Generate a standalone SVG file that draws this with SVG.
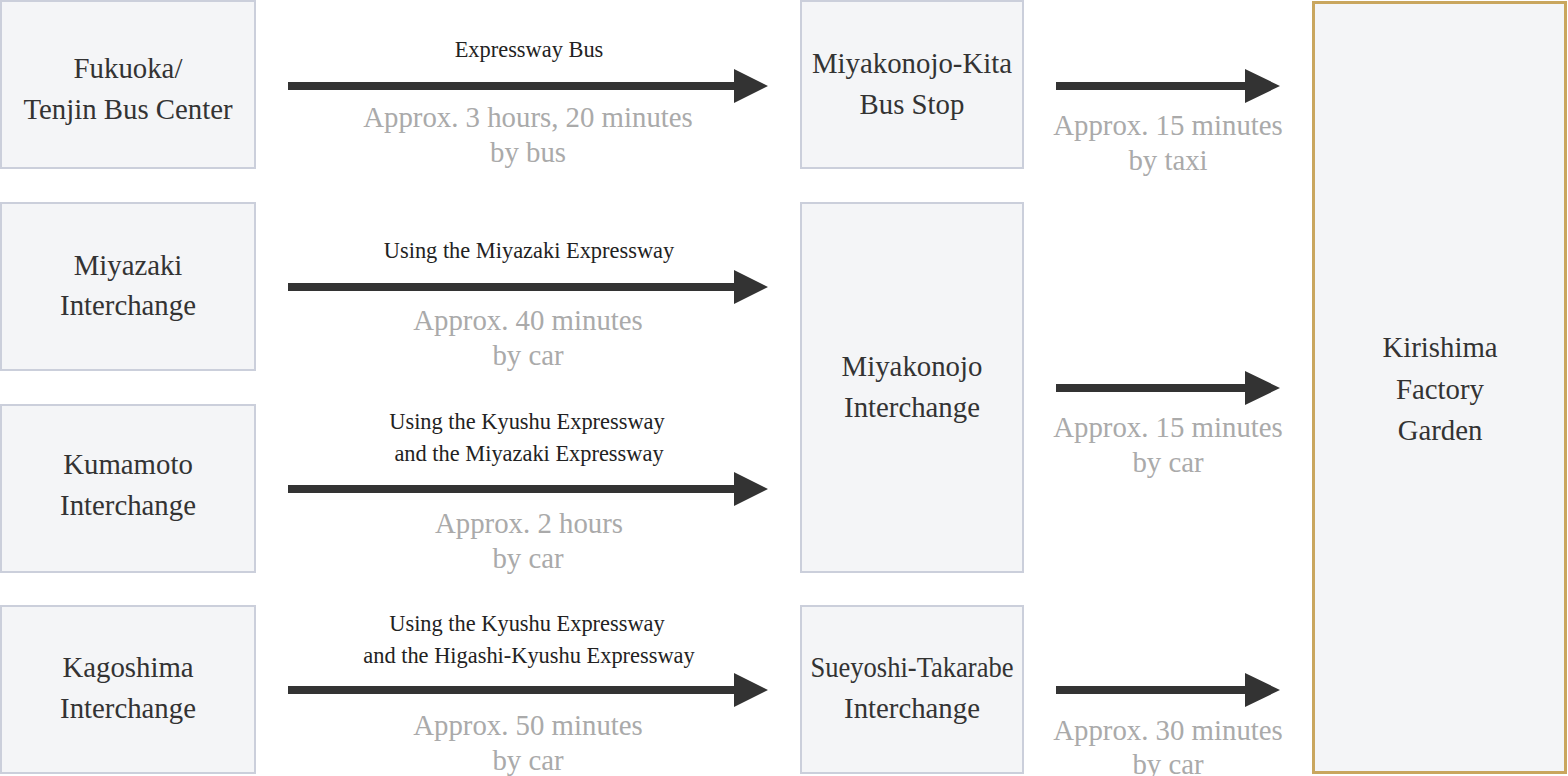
<svg xmlns="http://www.w3.org/2000/svg" width="1568" height="776" viewBox="0 0 1568 776">
<style>
.box{fill:#f4f5f7;stroke:#cbcfdb;stroke-width:2}
.goal{fill:#f4f5f7;stroke:#c9a65e;stroke-width:3}
.lbl{font-family:"Liberation Serif","Times New Roman",serif;font-size:28.8px;fill:#333;text-anchor:middle}
.via{font-family:"Liberation Serif","Times New Roman",serif;font-size:22.4px;fill:#222;text-anchor:middle}
.time{font-family:"Liberation Serif","Times New Roman",serif;font-size:28.8px;fill:#aaa;text-anchor:middle}
.arr{fill:#333}
</style>
<defs>
<path id="longArrow" d="M288,-4 H734 V-17 L768,0 L734,17 V4 H288 Z"/>
<path id="shortArrow" d="M1056,-4 H1245 V-17 L1280,0 L1245,17 V4 H1056 Z"/>
</defs>
<rect width="1568" height="776" fill="#fff"/>
<g id="fukuoka"><rect class="box" x="1" y="1" width="254" height="167"/><text class="lbl" x="128" y="78">Fukuoka/</text><text class="lbl" x="128" y="119">Tenjin Bus Center</text></g>
<g id="miyazaki"><rect class="box" x="1" y="203" width="254" height="167"/><text class="lbl" x="128" y="275">Miyazaki</text><text class="lbl" x="128" y="315">Interchange</text></g>
<g id="kumamoto"><rect class="box" x="1" y="405" width="254" height="167"/><text class="lbl" x="128" y="474">Kumamoto</text><text class="lbl" x="128" y="515">Interchange</text></g>
<g id="kagoshima"><rect class="box" x="1" y="606" width="254" height="167"/><text class="lbl" x="128" y="677">Kagoshima</text><text class="lbl" x="128" y="718">Interchange</text></g>
<g id="kita"><rect class="box" x="801" y="1" width="222" height="167"/><text class="lbl" x="912" y="73">Miyakonojo-Kita</text><text class="lbl" x="912" y="114">Bus Stop</text></g>
<g id="miyakonojo"><rect class="box" x="801" y="203" width="222" height="369"/><text class="lbl" x="912" y="376">Miyakonojo</text><text class="lbl" x="912" y="417">Interchange</text></g>
<g id="sueyoshi"><rect class="box" x="801" y="606" width="222" height="167"/><text class="lbl" x="912" y="677" textLength="203" lengthAdjust="spacingAndGlyphs">Sueyoshi-Takarabe</text><text class="lbl" x="912" y="718">Interchange</text></g>
<g id="kirishima"><rect class="goal" x="1313.5" y="2.5" width="252" height="770"/><text class="lbl" x="1440" y="357">Kirishima</text><text class="lbl" x="1440" y="399">Factory</text><text class="lbl" x="1440" y="440">Garden</text></g>
<g id="connectors">
<use href="#longArrow" class="arr" y="86"/>
<use href="#longArrow" class="arr" y="287"/>
<use href="#longArrow" class="arr" y="489"/>
<use href="#longArrow" class="arr" y="690"/>
<use href="#shortArrow" class="arr" y="86"/>
<use href="#shortArrow" class="arr" y="388"/>
<use href="#shortArrow" class="arr" y="690"/>
<text class="via" x="529" y="57">Expressway Bus</text>
<text class="time" x="528" y="127">Approx. 3 hours, 20 minutes</text><text class="time" x="528" y="162">by bus</text>
<text class="via" x="529" y="258">Using the Miyazaki Expressway</text>
<text class="time" x="528" y="330">Approx. 40 minutes</text><text class="time" x="528" y="365">by car</text>
<text class="via" x="527" y="429">Using the Kyushu Expressway</text><text class="via" x="529" y="461">and the Miyazaki Expressway</text>
<text class="time" x="529" y="533">Approx. 2 hours</text><text class="time" x="528" y="568">by car</text>
<text class="via" x="527" y="631">Using the Kyushu Expressway</text><text class="via" x="529" y="663">and the Higashi-Kyushu Expressway</text>
<text class="time" x="528" y="735">Approx. 50 minutes</text><text class="time" x="528" y="770">by car</text>
<text class="time" x="1168" y="135">Approx. 15 minutes</text><text class="time" x="1168" y="170">by taxi</text>
<text class="time" x="1168" y="437">Approx. 15 minutes</text><text class="time" x="1168" y="472">by car</text>
<text class="time" x="1168" y="740">Approx. 30 minutes</text><text class="time" x="1168" y="774">by car</text>
</g>
</svg>
